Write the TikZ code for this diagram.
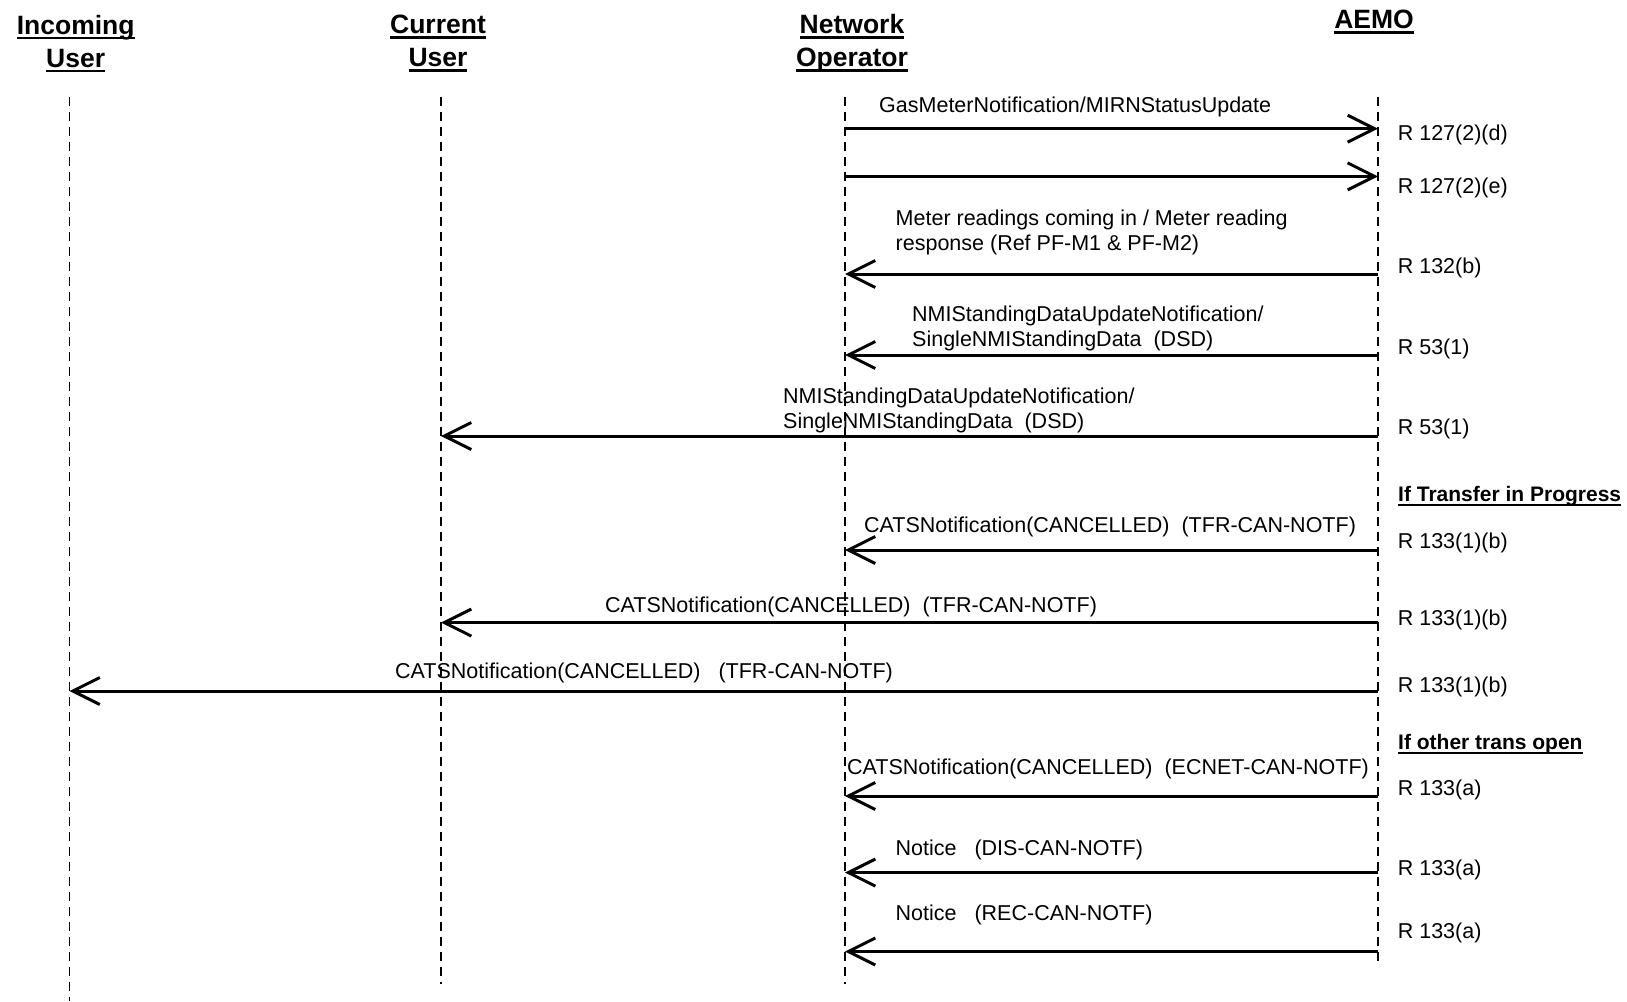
\documentclass[tikz,border=0pt]{standalone}
\usepackage{fontspec}
\setmainfont{Liberation Sans}
\usetikzlibrary{arrows.meta,positioning,calc}
\newcommand\undl[1]{\leavevmode\setbox0\hbox{#1}\rlap{\vrule height -2.5pt depth 5pt width \wd0}\box0}
\tikzset{
  every picture/.style={x=1pt,y=-1pt},
  head/.style={font=\bfseries\fontsize{26.5}{33}\selectfont,align=center,inner sep=0pt},
  life/.style={line width=1.3pt,dash pattern=on 9pt off 6pt},
  msg/.style={line width=3pt,-{Straight Barb[length=27pt,width=27pt,line width=3pt]}},
  lbl/.style={font=\fontsize{21.5}{25}\selectfont,align=left,inner sep=0pt,anchor=west},
  rule/.style={font=\fontsize{21.5}{25}\selectfont,inner sep=0pt,anchor=west},
  cond/.style={font=\bfseries\fontsize{21}{25}\selectfont,inner sep=0pt,anchor=west},
}

\begin{document}
\begin{tikzpicture}
  \fill[white] (0,0) rectangle (1627,1001);
  \useasboundingbox (0,0) rectangle (1627,1001);
  % participants
  \node[head] (iu) at (75.7,43.5) {\undl{Incoming}\\\undl{User}};
  \node[head] (cu) at (438,43.5) {\undl{Current}\\\undl{User}};
  \node[head] (no) at (852,43.5) {\undl{Network}\\\undl{Operator}};
  \node[head] (ae) at (1374,22) {\undl{AEMO}};
  % lifelines
  \foreach \p/\x/\b in {iu/69.5/1001, cu/441/984, no/845/984, ae/1378/965}{
    \coordinate (\p-t) at (\x,96.5);
    \coordinate (\p-b) at (\x,\b);
    \draw[life] (\p-t) -- (\p-b);
  }
  % messages
  \foreach \y/\from/\to in {128.7/no/ae, 176.4/no/ae, 274/ae/no, 355/ae/no, 436/ae/cu,
                            550/ae/no, 622.6/ae/cu, 691/ae/iu, 796/ae/no, 872.6/ae/no, 951.5/ae/no}
    \draw[msg] (\from-t |- 0,\y) -- (\to-t |- 0,\y);
  % message labels
  \node[lbl] (l1) at (879,107) {GasMeterNotification/MIRNStatusUpdate};
  \node[lbl] (l3) at (895.5,232.5) {Meter readings coming in / Meter reading\\response (Ref PF-M1 \& PF-M2)};
  \node[lbl] (l4) at (912,328) {NMIStandingDataUpdateNotification/\\SingleNMIStandingData~ (DSD)};
  \node[lbl] (l5) at (783,410.5) {NMIStandingDataUpdateNotification/\\SingleNMIStandingData~ (DSD)};
  \node[lbl] (l7) at (864,527) {CATSNotification(CANCELLED)~ (TFR-CAN-NOTF)};
  \node[lbl] (l8) at (605,607) {CATSNotification(CANCELLED)~ (TFR-CAN-NOTF)};
  \node[lbl] (l9) at (395,673) {CATSNotification(CANCELLED)~~ (TFR-CAN-NOTF)};
  \node[lbl] (l11) at (847,769) {CATSNotification(CANCELLED)~ (ECNET-CAN-NOTF)};
  \node[lbl] (l12) at (895.5,850) {Notice~~ (DIS-CAN-NOTF)};
  \node[lbl] (l13) at (895.5,915) {Notice~~ (REC-CAN-NOTF)};
  % rule references
  \foreach \y/\t [count=\n] in {135/{R 127(2)(d)}, 187.7/{R 127(2)(e)}, 267.6/{R 132(b)},
      348.5/{R 53(1)}, 428.5/{R 53(1)}, 542.6/{R 133(1)(b)}, 620/{R 133(1)(b)},
      687/{R 133(1)(b)}, 789.5/{R 133(a)}, 869.5/{R 133(a)}, 932.7/{R 133(a)}}
    \node[rule] (r\n) at (1397.6,\y) {\t};
  \node[cond] (c1) at (1398,496) {\undl{If Transfer in Progress}};
  \node[cond] (c2) at (1398,744) {\undl{If other trans open}};
\end{tikzpicture}
\end{document}
